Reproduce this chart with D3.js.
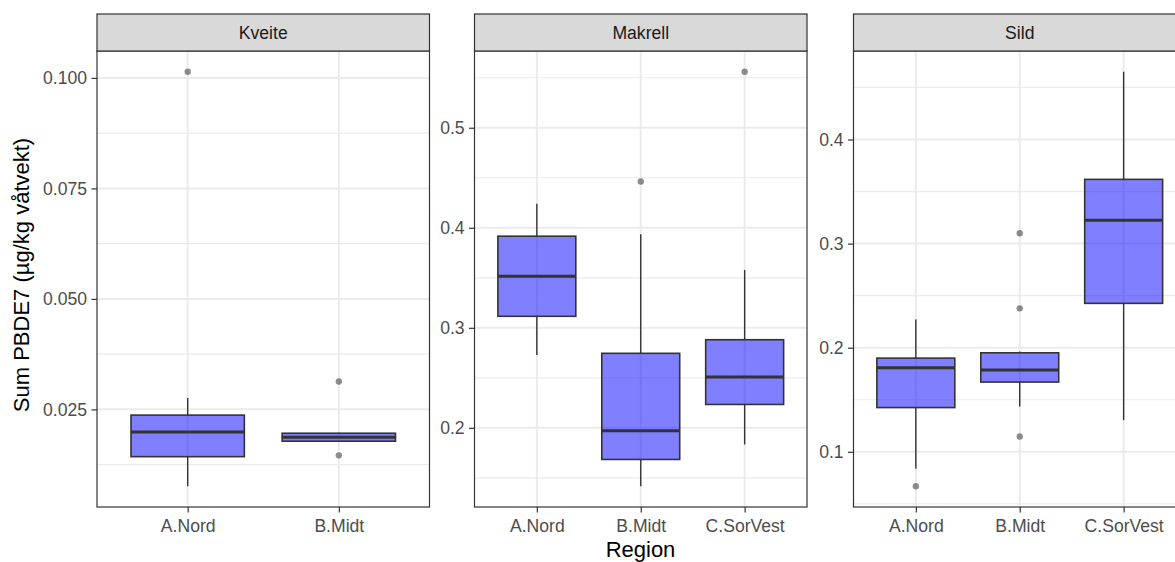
<!DOCTYPE html>
<html>
<head>
<meta charset="utf-8">
<script src="https://cdn.jsdelivr.net/npm/d3@7"></script>
<style>
  html, body { margin: 0; padding: 0; background: #fff; }
  svg { display: block; font-family: "Liberation Sans", Arial, sans-serif; }
</style>
</head>
<body>
<svg id="chart" width="1175" height="562"></svg>
<script>
// Facet titles (fish species)
const species = ["Kveite", "Makrell", "Sild"];

// Regions sampled per species
const kveiteRegions = ["A.Nord", "B.Midt"];
const makrellRegions = ["A.Nord", "B.Midt", "C.SorVest"];
const sildRegions = ["A.Nord", "B.Midt", "C.SorVest"];

// Box statistics per region: [lower whisker, Q1, median, Q3, upper whisker]
const kveiteBoxes = [
  [0.0076, 0.0143, 0.0199, 0.0237, 0.0276],
  [0.0176, 0.0178, 0.0187, 0.0196, 0.0197]
];
const makrellBoxes = [
  [0.2728, 0.3115, 0.3516, 0.3916, 0.4240],
  [0.1416, 0.1684, 0.1970, 0.2745, 0.3936],
  [0.1834, 0.2234, 0.2508, 0.2881, 0.3579]
];
const sildBoxes = [
  [0.0837, 0.1425, 0.1808, 0.1900, 0.2270],
  [0.1435, 0.1670, 0.1785, 0.1951, 0.1964],
  [0.1303, 0.2426, 0.3225, 0.3617, 0.4651]
];

// Outlying observations per region
const kveiteOutliers = [[0.1014], [0.0313, 0.0146]];
const makrellOutliers = [[], [0.4463], [0.5560]];
const sildOutliers = [[0.0669], [0.3100, 0.2378, 0.1147], []];

// Y axis tick values per facet
const kveiteTicks = [0.025, 0.050, 0.075, 0.100];
const makrellTicks = [0.2, 0.3, 0.4, 0.5];
const sildTicks = [0.1, 0.2, 0.3, 0.4];

const yTitle = "Sum PBDE7 (µg/kg våtvekt)";
const xTitle = "Region";

const facets = [
  { name: species[0], regions: kveiteRegions, boxes: kveiteBoxes, outliers: kveiteOutliers, ticks: kveiteTicks, fmt: d3.format(".3f") },
  { name: species[1], regions: makrellRegions, boxes: makrellBoxes, outliers: makrellOutliers, ticks: makrellTicks, fmt: d3.format(".1f") },
  { name: species[2], regions: sildRegions, boxes: sildBoxes, outliers: sildOutliers, ticks: sildTicks, fmt: d3.format(".1f") }
];

// Layout
const panelLeft = [97, 474.5, 853.5];
const panelW = 332.5;
const stripTop = 14, stripBottom = 51, panelBottom = 507;
const tickLen = 5.5;
const fontSmall = 17.6, fontTitle = 22;

const svg = d3.select("#chart");

facets.forEach((f, i) => {
  const x0 = panelLeft[i];
  const g = svg.append("g").attr("transform", `translate(${x0},0)`);

  // discrete x scale with 0.6 unit expansion on each side
  const n = f.regions.length;
  const unit = panelW / (n - 1 + 1.2);
  const x = d3.scalePoint().domain(f.regions).range([0.6 * unit, panelW - 0.6 * unit]);
  const boxW = 0.75 * unit;

  // continuous y scale with 5% padding around the data range
  const all = f.boxes.flat().concat(f.outliers.flat());
  const lo = d3.min(all), hi = d3.max(all);
  const pad = (hi - lo) * 0.05;
  const y = d3.scaleLinear().domain([lo - pad, hi + pad]).range([panelBottom, stripBottom]);

  const clipId = "clip" + i;
  g.append("clipPath").attr("id", clipId)
    .append("rect").attr("x", 0).attr("y", stripBottom).attr("width", panelW).attr("height", panelBottom - stripBottom);

  const plot = g.append("g").attr("clip-path", `url(#${clipId})`);

  // minor gridlines halfway between major ticks
  const step = f.ticks[1] - f.ticks[0];
  const minor = [];
  [f.ticks[0] - step].concat(f.ticks).forEach(t => {
    const m = t + step / 2;
    if (m > y.domain()[0] && m < y.domain()[1]) minor.push(m);
  });
  plot.selectAll(".minor").data(minor).join("line")
    .attr("x1", 0).attr("x2", panelW)
    .attr("y1", d => y(d)).attr("y2", d => y(d))
    .attr("stroke", "#EBEBEB").attr("stroke-width", 1.2);

  // major gridlines
  plot.selectAll(".majorY").data(f.ticks).join("line")
    .attr("x1", 0).attr("x2", panelW)
    .attr("y1", d => y(d)).attr("y2", d => y(d))
    .attr("stroke", "#EBEBEB").attr("stroke-width", 2);
  plot.selectAll(".majorX").data(f.regions).join("line")
    .attr("x1", d => x(d)).attr("x2", d => x(d))
    .attr("y1", stripBottom).attr("y2", panelBottom)
    .attr("stroke", "#EBEBEB").attr("stroke-width", 2);

  // outliers
  f.regions.forEach((r, j) => {
    plot.selectAll(null).data(f.outliers[j]).join("circle")
      .attr("cx", x(r)).attr("cy", d => y(d)).attr("r", 3.2)
      .attr("fill", "#333333").attr("fill-opacity", 0.55);
  });

  // boxes
  const box = plot.selectAll(".box").data(f.regions.map((r, j) => ({ r, s: f.boxes[j] }))).join("g");
  box.append("line")
    .attr("x1", d => x(d.r)).attr("x2", d => x(d.r))
    .attr("y1", d => y(d.s[3])).attr("y2", d => y(d.s[4]))
    .attr("stroke", "#333333").attr("stroke-width", 1.4);
  box.append("line")
    .attr("x1", d => x(d.r)).attr("x2", d => x(d.r))
    .attr("y1", d => y(d.s[1])).attr("y2", d => y(d.s[0]))
    .attr("stroke", "#333333").attr("stroke-width", 1.4);
  box.append("rect")
    .attr("x", d => x(d.r) - boxW / 2).attr("width", boxW)
    .attr("y", d => y(d.s[3])).attr("height", d => y(d.s[1]) - y(d.s[3]))
    .attr("fill", "#0000FF").attr("fill-opacity", 0.5)
    .attr("stroke", "#333333").attr("stroke-width", 1.6);
  box.append("line")
    .attr("x1", d => x(d.r) - boxW / 2).attr("x2", d => x(d.r) + boxW / 2)
    .attr("y1", d => y(d.s[2])).attr("y2", d => y(d.s[2]))
    .attr("stroke", "#333333").attr("stroke-width", 3);

  // panel border
  g.append("rect").attr("x", 0).attr("y", stripBottom).attr("width", panelW).attr("height", panelBottom - stripBottom)
    .attr("fill", "none").attr("stroke", "#333333").attr("stroke-width", 1.2);

  // strip
  g.append("rect").attr("x", 0).attr("y", stripTop).attr("width", panelW).attr("height", stripBottom - stripTop)
    .attr("fill", "#D9D9D9").attr("stroke", "#333333").attr("stroke-width", 1.2);
  g.append("text").attr("x", panelW / 2).attr("y", 39.3)
    .attr("text-anchor", "middle").attr("font-size", fontSmall).attr("fill", "#1A1A1A")
    .text(f.name);

  // y axis
  const yAxis = g.append("g").call(d3.axisLeft(y).tickValues(f.ticks).tickFormat(f.fmt).tickSize(tickLen).tickPadding(4.4));
  yAxis.select(".domain").remove();
  yAxis.selectAll(".tick line").attr("stroke", "#333333").attr("stroke-width", 1.2);
  yAxis.selectAll(".tick text").attr("font-size", fontSmall).attr("fill", "#4D4D4D")
    .attr("font-family", "Liberation Sans, Arial, sans-serif");

  // x axis
  const xAxis = g.append("g").attr("transform", `translate(0,${panelBottom})`)
    .call(d3.axisBottom(x).tickSize(tickLen).tickPadding(4.4));
  xAxis.select(".domain").remove();
  xAxis.selectAll(".tick line").attr("stroke", "#333333").attr("stroke-width", 1.2);
  xAxis.selectAll(".tick text").attr("font-size", fontSmall).attr("fill", "#4D4D4D")
    .attr("font-family", "Liberation Sans, Arial, sans-serif").attr("dy", null).attr("y", 25);
});

// axis titles
svg.append("text")
  .attr("transform", `translate(29,${(stripBottom + panelBottom) / 2 - 4}) rotate(-90)`)
  .attr("text-anchor", "middle").attr("font-size", fontTitle).attr("fill", "#000")
  .text(yTitle);
svg.append("text")
  .attr("x", (panelLeft[0] + panelLeft[2] + panelW) / 2 - 1).attr("y", 556.5)
  .attr("text-anchor", "middle").attr("font-size", fontTitle).attr("fill", "#000")
  .text(xTitle);
</script>
</body>
</html>
